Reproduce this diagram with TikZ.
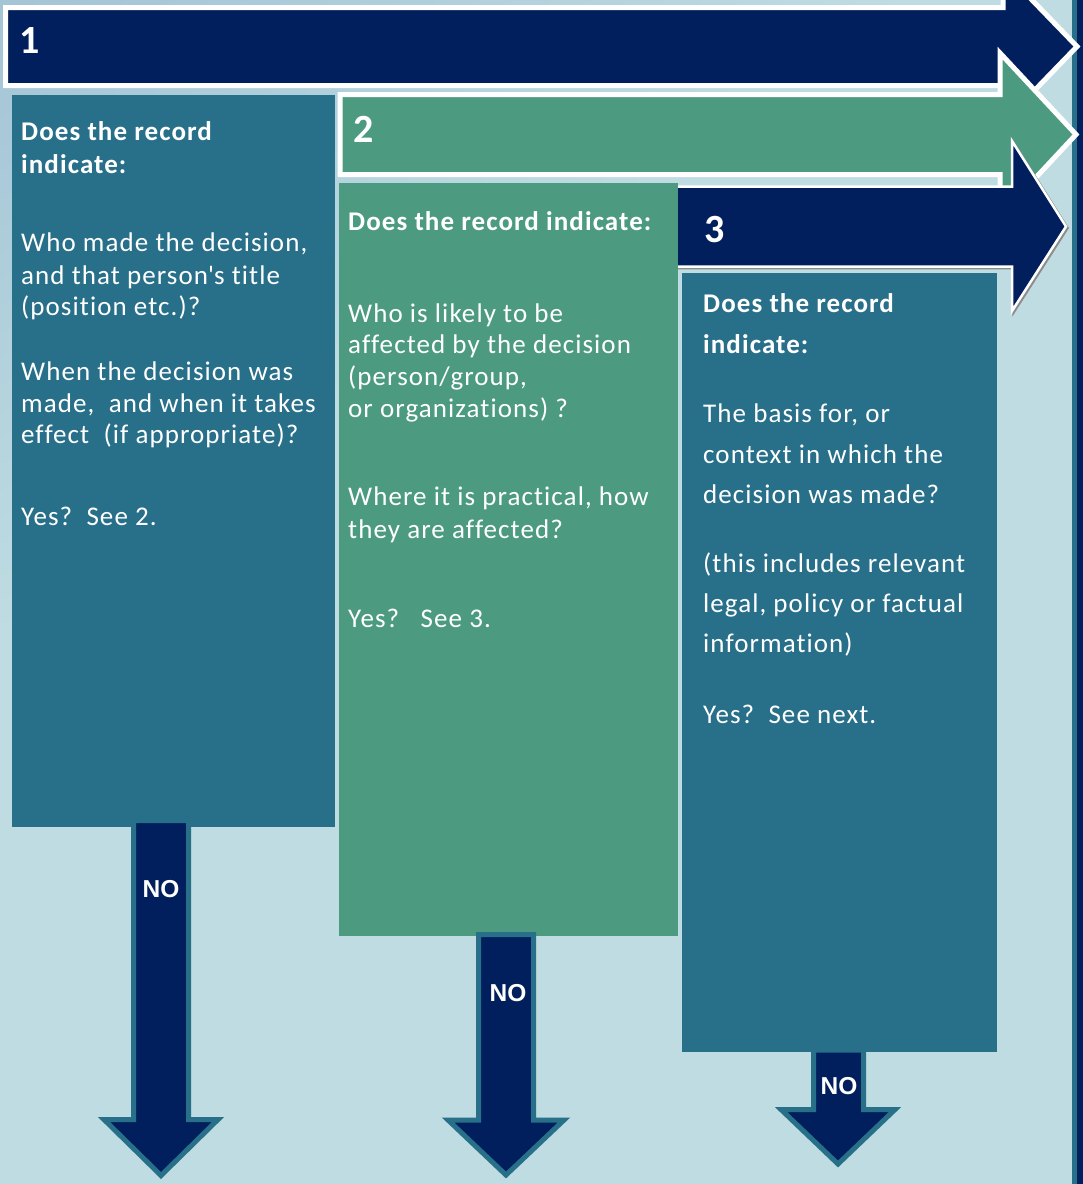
\documentclass[tikz,border=0pt]{standalone}
\usepackage{fontspec}
\setmainfont{Carlito}
\newfontfamily\bodyfont{Carlito}[LetterSpace=4, Ligatures=NoCommon]
\newfontfamily\labelfont{Liberation Sans}

\definecolor{navy}{HTML}{001F5C}
\definecolor{tealbox}{HTML}{287089}
\definecolor{greenbox}{HTML}{4C9B81}
\definecolor{bgtop}{HTML}{95B7CA}
\definecolor{bgmid}{HTML}{A9C9D9}
\definecolor{bgbot}{HTML}{BEDCE1}

% diagonal backdrop: darker toward the upper left corner
\pgfdeclareverticalshading{backdrop}{100bp}{color(0bp)=(bgbot); color(62bp)=(bgbot);
  color(80bp)=(bgmid); color(100bp)=(bgtop)}

\begin{document}
\begin{tikzpicture}[x=1pt,y=-1pt,
  txt/.style={anchor=base west, inner sep=0pt, text=white,
    font=\bodyfont\fontsize{27}{30}\selectfont},
  hdr/.style={txt, font=\bodyfont\fontsize{27}{30}\selectfont\bfseries},
  num/.style={anchor=base west, inner sep=0pt, text=white,
    font=\fontsize{40}{44}\selectfont\bfseries},
  nolabel/.style={inner sep=0pt, text=white,
    font=\labelfont\bfseries\fontsize{24.5}{28}\selectfont},
  bigarrow/.style={draw=white, line width=5pt, line join=miter},
  noarrow/.style={fill=navy, draw=tealbox, line width=5pt, line join=miter}]

\useasboundingbox (0,0) rectangle (1083,1184);

% backdrop
\shade[shading=backdrop, shading angle=35] (0,0) rectangle (1083,1184);

% frame bar on the right
\fill[tealbox] (1072,0) rectangle (1077,1184);
\fill[navy] (1077,0) rectangle (1083,1184);

% step arrows
\path[bigarrow, fill=navy]
  (5.5,7.5) -- (1003,7.5) -- (1003,-30) -- (1077,46.5) -- (1003,123)
  -- (1003,85.5) -- (5.5,85.5) -- cycle;
\path[bigarrow, fill=greenbox]
  (340,94.5) -- (1000,94.5) -- (1000,53) -- (1076,134.5) -- (1000,216)
  -- (1000,174.5) -- (340,174.5) -- cycle;
\path[draw=black!45, line width=2.5pt, line join=miter, shift={(1.5,1.5)}]
  (676,186.5) -- (1012,186.5) -- (1012,141) -- (1066,226.5) -- (1012,311)
  -- (1012,266.5) -- (676,266.5);
\path[fill=navy, draw=white, line width=2.5pt, line join=miter]
  (676,186.5) -- (1012,186.5) -- (1012,141) -- (1066,226.5) -- (1012,311)
  -- (1012,266.5) -- (676,266.5) -- cycle;

% question boxes
\fill[tealbox] (12,95) rectangle (335,827);
\fill[greenbox] (339,183) rectangle (678,936);
\fill[tealbox] (682,273) rectangle (997,1052);

% "NO" arrows
\path[noarrow]
  (133.5,820.5) -- (188.5,820.5) -- (188.5,1119.5) -- (218,1119.5)
  -- (161,1175.5) -- (104,1119.5) -- (133.5,1119.5) -- cycle;
\path[noarrow]
  (478.5,934.5) -- (533.5,934.5) -- (533.5,1120) -- (564,1120)
  -- (506,1175) -- (448,1120) -- (478.5,1120) -- cycle;
\path[noarrow]
  (813.5,1050) -- (863.5,1050) -- (863.5,1109.5) -- (895,1109.5)
  -- (838,1164) -- (781,1109.5) -- (813.5,1109.5) -- cycle;

\node[nolabel] (no1) at (161,889) {NO};
\node[nolabel] (no2) at (508,993) {NO};
\node[nolabel] (no3) at (839,1086) {NO};

% step numbers
\node[num] (n1) at (19,53) {1};
\node[num] (n2) at (353,142) {2};
\node[num] (n3) at (704,242) {3};

% box 1
\node[hdr] (a1) at (21,140) {Does the record};
\node[hdr] (a2) at (21,173) {indicate:};
\node[txt] (a3) at (21,251) {Who made the decision,};
\node[txt] (a4) at (21,284) {and that person\textquotesingle s title};
\node[txt] (a5) at (21,315) {(position etc.)?};
\node[txt] (a6) at (21,380) {When the decision was};
\node[txt] (a7) at (21,412) {made,\ \ and when it takes};
\node[txt] (a8) at (21,443) {effect\ \ (if appropriate)?};
\node[txt] (a9) at (21,525) {Yes?\ \ See 2.};

% box 2
\node[hdr] (b1) at (348,230) {Does the record indicate:};
\node[txt] (b2) at (348,322) {Who is likely to be};
\node[txt] (b3) at (348,353) {affected by the decision};
\node[txt] (b4) at (348,385) {(person/group,};
\node[txt] (b5) at (348,417) {or organizations) ?};
\node[txt] (b6) at (348,505) {Where it is practical, how};
\node[txt] (b7) at (348,538) {they are affected?};
\node[txt] (b8) at (348,627) {Yes?\ \ \ See 3.};

% box 3
\node[hdr] (c1) at (703,312) {Does the record};
\node[hdr] (c2) at (703,353) {indicate:};
\node[txt] (c3) at (703,422) {The basis for, or};
\node[txt] (c4) at (703,463) {context in which the};
\node[txt] (c5) at (703,503) {decision was made?};
\node[txt] (c6) at (703,572) {(this includes relevant};
\node[txt] (c7) at (703,612) {legal, policy or factual};
\node[txt] (c8) at (703,652) {information)};
\node[txt] (c9) at (703,723) {Yes?\ \ See next.};
\end{tikzpicture}
\end{document}
